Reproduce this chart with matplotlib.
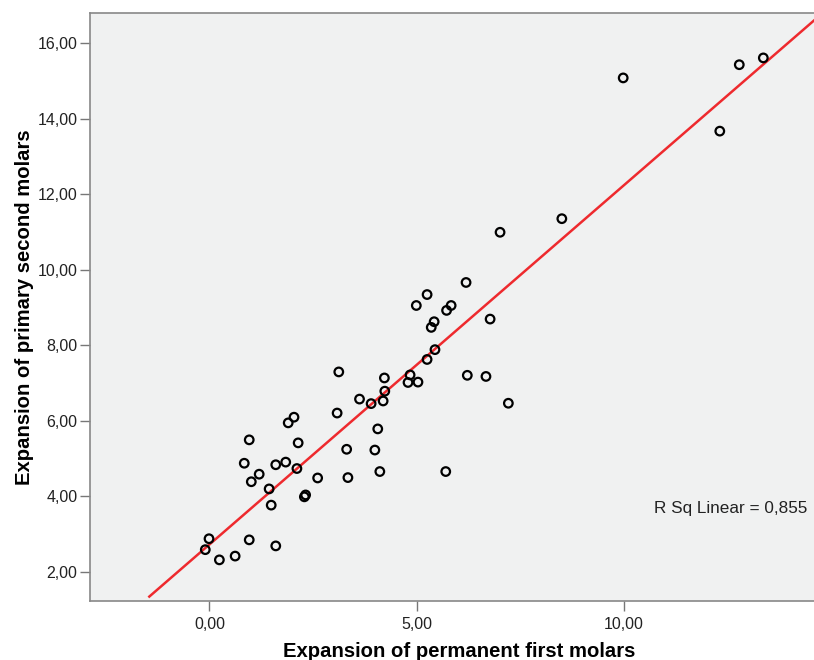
import matplotlib
matplotlib.use('Agg')
import numpy as np
import matplotlib.pyplot as plt

plt.rcParams['font.family'] = ['Liberation Sans', 'DejaVu Sans']

# expansion values
first_molars = [9.98, 12.78, 13.36, 12.31, 8.50, 7.01, 6.19, 5.25, 4.99, 5.83,
                5.72, 5.42, 5.35, 6.77, 5.44, 5.25, 3.12, 4.22, 4.84, 6.22,
                6.67, 4.79, 5.03, 4.23, 3.62, 3.90, 4.19, 7.21, 3.08, 2.04,
                1.90, 0.96, 2.14, 4.06, 3.31, 3.99, 0.84, 1.60, 1.84, 2.11,
                1.20, 4.11, 5.70, 1.01, 2.61, 3.34, 1.44, 2.32, 2.29, 1.49,
                -0.01, -0.10, 0.96, 1.60, 0.24, 0.62]
primary_second = [15.08, 15.43, 15.61, 13.67, 11.35, 10.99, 9.66, 9.34, 9.05, 9.05,
                  8.92, 8.62, 8.47, 8.69, 7.88, 7.62, 7.29, 7.13, 7.21, 7.20,
                  7.17, 7.01, 7.02, 6.78, 6.57, 6.45, 6.52, 6.46, 6.20, 6.09,
                  5.94, 5.49, 5.41, 5.78, 5.24, 5.22, 4.87, 4.83, 4.90, 4.73,
                  4.58, 4.65, 4.65, 4.38, 4.48, 4.49, 4.19, 4.03, 3.98, 3.76,
                  2.87, 2.58, 2.84, 2.68, 2.31, 2.41]
r_sq_label = 'R Sq Linear = 0,855'

x = np.array(first_molars)
y = np.array(primary_second)
slope, intercept = np.polyfit(x, y, 1)

fig = plt.figure(figsize=(8.14, 6.6), dpi=100)
# chart is cropped on the right in the reference, so the axes run past the edge
ax = fig.add_axes([0.1106, 0.0894, 0.9066, 0.8909])
ax.set_facecolor('#f0f1f1')

line_x = np.array([-1.45, 15.5])
ax.plot(line_x, slope * line_x + intercept, color='#ee2a2e', lw=1.8, zorder=2)
ax.scatter(x, y, s=38, facecolors='none', edgecolors='black', linewidths=1.6, zorder=3)

ax.set_xlim(-2.88, 14.92)
ax.set_ylim(1.22, 16.80)
ax.set_xticks([0, 5, 10])
ax.set_yticks([2, 4, 6, 8, 10, 12, 14, 16])
ax.set_xticklabels(['0,00', '5,00', '10,00'])
ax.set_yticklabels(['%d,00' % v for v in [2, 4, 6, 8, 10, 12, 14, 16]])
ax.tick_params(direction='out', length=7.2, width=1, color='#777777',
               labelsize=11.5, labelcolor='#222222', pad=2)
ax.tick_params(axis='x', pad=4.5)

for side in ['left', 'bottom', 'top', 'right']:
    ax.spines[side].set_color('#888888')
    ax.spines[side].set_linewidth(1.2)

ax.set_xlabel('Expansion of permanent first molars', fontsize=14.6, fontweight='bold', labelpad=7)
ax.set_ylabel('Expansion of primary second molars', fontsize=14.6, fontweight='bold', labelpad=2)

ax.text(10.72, 3.66, r_sq_label, ha='left', va='center', fontsize=12.3, color='#222222')

fig.savefig('out.png', dpi=100)
